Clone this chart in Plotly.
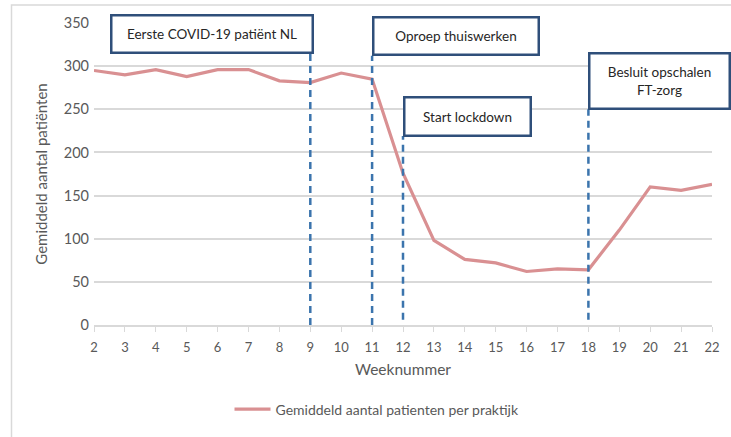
import plotly.graph_objects as go

weeks = list(range(2, 23))
patients = [295, 290, 296, 288, 296, 296, 283, 281, 292, 285, 176, 98, 76, 72, 62, 65, 64, 110, 160, 156, 163]
series_name = "Gemiddeld aantal patienten per praktijk"

event_weeks = [9, 11, 12, 18]
event_labels = ["Eerste COVID-19 patiënt NL", "Oproep thuiswerken", "Start lockdown", "Besluit opschalen<br>FT-zorg"]
event_line_top = [314, 312, 219, 250]
event_line_bottom = [0, 0, 6, 6]

x_title = "Weeknummer"
y_title = "Gemiddeld aantal patiënten"

# pixel layout helpers
L, R, T, B = 94, 712, 23, 327
W, H = 731, 437
def px(x):
    return (x - L) / (R - L)
def py(y):
    return (B - y) / (B - T)

FONT = "Lato, Carlito, Open Sans, sans-serif"
fig = go.Figure()
fig.add_trace(go.Scatter(
    x=weeks, y=patients, mode="lines", name=series_name,
    line=dict(color="#d99092", width=3.2),
))

shapes = []
# outer chart border
shapes.append(dict(type="rect", xref="paper", yref="paper",
                   x0=px(11.5), x1=px(745), y0=py(5), y1=py(450),
                   line=dict(color="#d9d9d9", width=1.5), layer="below"))
for wk, top, bot in zip(event_weeks, event_line_top, event_line_bottom):
    shapes.append(dict(type="line", xref="x", yref="y", x0=wk, x1=wk, y0=bot, y1=top,
                       line=dict(color="#3b74ad", width=2.5, dash="7px,5px")))

# annotation boxes (pixel positions)
boxes = [
    (110, 313, 15, 54),
    (372, 539, 17, 56),
    (403, 531, 97, 137),
    (588, 730, 53, 110),
]
annotations = []
for (x0, x1, y0, y1), lab in zip(boxes, event_labels):
    annotations.append(dict(
        x=px((x0 + x1) / 2), y=py((y0 + y1) / 2), xref="paper", yref="paper",
        text=lab, showarrow=False, xanchor="center", yanchor="middle",
        width=x1 - x0 - 4, height=y1 - y0 - 4, borderpad=0,
        bordercolor="#2f4f7a", borderwidth=2.5, bgcolor="white",
        font=dict(family=FONT, size=13.5, color="#262626"),
    ))

fig.update_layout(
    width=W, height=H,
    margin=dict(l=L, r=W - R, t=T, b=H - B),
    paper_bgcolor="white", plot_bgcolor="white",
    showlegend=True,
    legend=dict(orientation="h", x=px(377), xanchor="center", y=py(412), yanchor="middle",
                font=dict(family=FONT, size=14, color="#595959"), itemwidth=36),
    shapes=shapes, annotations=annotations,
    xaxis=dict(range=[2, 22], tickmode="array", tickvals=weeks, ticktext=[str(w) for w in weeks],
               showgrid=False, zeroline=False, showline=True, linecolor="#d9d9d9", linewidth=1.5,
               ticks="outside", ticklen=5, tickcolor="#d9d9d9", ticklabelstandoff=5,
               tickfont=dict(family=FONT, size=13, color="#595959"),
               title=dict(text=x_title, font=dict(family=FONT, size=15.5, color="#595959"), standoff=10)),
    yaxis=dict(range=[0, 350], tickvals=[0, 50, 100, 150, 200, 250, 300, 350],
               showgrid=True, gridcolor="#d9d9d9", gridwidth=1.5, zeroline=False,
               showline=False, ticks="", ticklen=0, ticklabelstandoff=4,
               tickfont=dict(family=FONT, size=14.5, color="#595959"),
               title=dict(text=y_title, font=dict(family=FONT, size=15, color="#595959"), standoff=12)),
)

fig.write_html("out.html", config={"displayModeBar": False},
               post_script="document.body.style.margin='0';document.body.style.padding='0';")
